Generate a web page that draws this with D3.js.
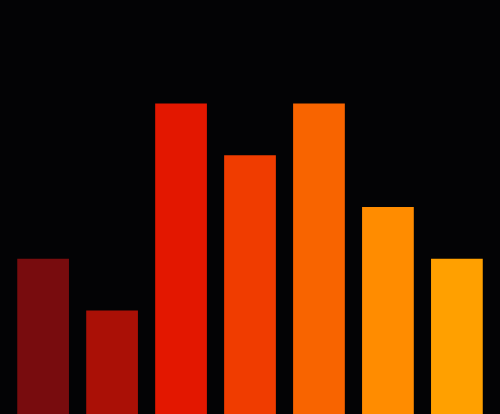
<!DOCTYPE html>
<html>
<head>
<meta charset="utf-8">
<script src="https://cdn.jsdelivr.net/npm/d3@7"></script>
<style>
  html, body { margin: 0; padding: 0; background: #030305; overflow: hidden; }
</style>
</head>
<body>
<div id="root"></div>
<script>
// chart data
var categories = ["A", "B", "C", "D", "E", "F", "G"];
var values = [3, 2, 6, 5, 6, 4, 3];
var palette = ["#780c0e", "#aa1006", "#e31700", "#f03c00", "#f86400", "#ff8c00", "#ffa000"];

var width = 500;
var height = 414;

var svg = d3.select("#root")
    .append("svg")
    .attr("width", width)
    .attr("height", height)
    .style("display", "block");

svg.append("rect")
    .attr("width", width)
    .attr("height", height)
    .attr("fill", "#030305");

var x = d3.scaleBand()
    .domain(categories)
    .range([0, width])
    .padding(0.25);

var y = d3.scaleLinear()
    .domain([0, 8])
    .range([height, 0]);

var color = d3.scaleOrdinal()
    .domain(categories)
    .range(palette);

svg.selectAll("rect.bar")
    .data(values)
    .enter()
    .append("rect")
    .attr("class", "bar")
    .attr("x", (d, i) => x(categories[i]))
    .attr("y", (d) => y(d))
    .attr("width", x.bandwidth())
    .attr("height", (d) => height - y(d))
    .attr("fill", (d, i) => color(categories[i]));
</script>
</body>
</html>
